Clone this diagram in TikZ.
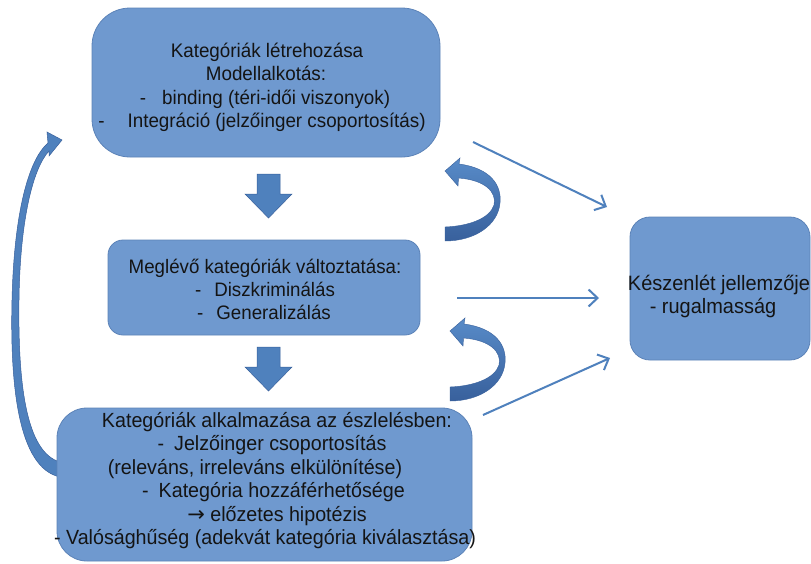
\documentclass[tikz,border=0pt]{standalone}
\usepackage{fontspec}
\setmainfont{Liberation Sans}[FakeStretch=0.96]
\newfontfamily\symfont{DejaVu Sans}
\usetikzlibrary{arrows.meta}
\definecolor{boxfill}{RGB}{111,153,207}
\definecolor{boxline}{RGB}{92,131,184}
\definecolor{arrfill}{RGB}{79,129,189}
\definecolor{arrlight}{RGB}{88,139,200}
\definecolor{arrdark}{RGB}{56,96,156}
\definecolor{linkblue}{RGB}{79,129,189}
\definecolor{inktext}{RGB}{20,20,20}

\begin{document}
\begin{tikzpicture}[x=1pt,y=-1pt,
  box/.style={draw=boxline, line width=0.8pt, fill=boxfill, inner sep=0pt},
  txt/.style={inner sep=0pt, anchor=base, text=inktext},
  ttop/.style={txt, font=\fontsize{19.6}{23}\selectfont},
  tmid/.style={txt, font=\fontsize{19.5}{23}\selectfont},
  tbot/.style={txt, font=\fontsize{20.5}{23}\selectfont},
  tright/.style={txt, font=\fontsize{20.8}{23}\selectfont},
  link/.style={draw=linkblue, line width=2pt, -{Straight Barb[length=9pt,width=17pt]}},
  blockarrow/.style={fill=arrfill, draw=arrdark, line width=0.5pt},
  turnarrow/.style={top color=arrlight, bottom color=arrdark, draw=arrdark, line width=0.4pt}
]
\useasboundingbox[fill=white] (0,0) rectangle (811,563);

% long feedback arrow on the left, from the bottom box back up to the top box
\path[blockarrow] (60,477) .. controls (18,468) and (10,385) .. (12,300)
   .. controls (14,215) and (28,160) .. (48,143) -- (47,132) -- (62,140) -- (49,156) -- (49,151)
   .. controls (33,168) and (20,220) .. (19,300)
   .. controls (18,380) and (25,452) .. (60,462) -- cycle;

% boxes
\node[box, minimum width=348pt, minimum height=149pt, rounded corners=38pt] (create) at (266,82.5) {};
\node[box, minimum width=312pt, minimum height=95pt, rounded corners=15pt] (modify) at (264,287.5) {};
\node[box, minimum width=415pt, minimum height=153pt, rounded corners=30pt] (apply) at (264.5,484.5) {};
\node[box, minimum width=180pt, minimum height=143pt, rounded corners=20pt] (ready) at (720,288.5) {};

% box texts
\node[ttop] (c1) at (267,57.5) {Kategóriák létrehozása};
\node[ttop] (c2) at (266,80.7) {Modellalkotás:};
\node[ttop] (c3) at (265,104) {-\hspace{16pt}binding (téri-idői viszonyok)};
\node[ttop] (c4) at (262,127.2) {-\hspace{23pt}Integráció (jelzőinger csoportosítás)};

\node[tmid] (m1) at (265,273) {Meglévő kategóriák változtatása:};
\node[tmid] (m2) at (265,296) {-\hspace{13pt}Diszkriminálás};
\node[tmid] (m3) at (264,319) {-\hspace{13pt}Generalizálás};

\node[tbot] (a1) at (277,427) {Kategóriák alkalmazása az észlelésben:};
\node[tbot] (a2) at (272,450.5) {-\hspace{10pt}Jelzőinger csoportosítás};
\node[tbot] (a3) at (255,474) {(releváns, irreleváns elkülönítése)};
\node[tbot] (a4) at (273.5,497.5) {-\hspace{10pt}Kategória hozzáférhetősége};
\node[tbot] (a5) at (277,521) {{\symfont\fontsize{21}{23}\selectfont →} előzetes hipotézis};
\node[tbot] (a6) at (265,544.5) {- Valósághűség (adekvát kategória kiválasztása)};

\node[tright] (r1) at (719,290) {Készenlét jellemzője};
\node[tright] (r2) at (713,313) {- rugalmasság};

% block arrows between the stages
\path[blockarrow] (257,174) -- (280,174) -- (280,194) -- (292,194) -- (268.5,218)
   -- (245,194) -- (257,194) -- cycle;
\path[blockarrow] (257,347) -- (280,347) -- (280,367) -- (292,367) -- (268.5,391)
   -- (245,367) -- (257,367) -- cycle;

% U-turn arrows
\foreach \sx/\sy in {445/171, 450/331}{
  \path[turnarrow, shift={(\sx,\sy)}] (14,-7) .. controls (45,-3) and (57,14) .. (55,32)
     .. controls (53,54) and (30,70) .. (0,70) -- (0,56)
     .. controls (25,55) and (45,47) .. (49,34)
     .. controls (52,21) and (40,9) .. (13.5,7)
     -- (13,15) -- (0,0) -- (15,-13) -- cycle;
}

% thin arrows towards the readiness box
\coordinate (s1) at (473,142);
\coordinate (e1) at (607,207);
\coordinate (s2) at (457,298);
\coordinate (e2) at (599,298);
\coordinate (s3) at (483,415);
\coordinate (e3) at (610,358);
\draw[link] (s1) -- (e1);
\draw[link] (s2) -- (e2);
\draw[link] (s3) -- (e3);
\end{tikzpicture}
\end{document}
